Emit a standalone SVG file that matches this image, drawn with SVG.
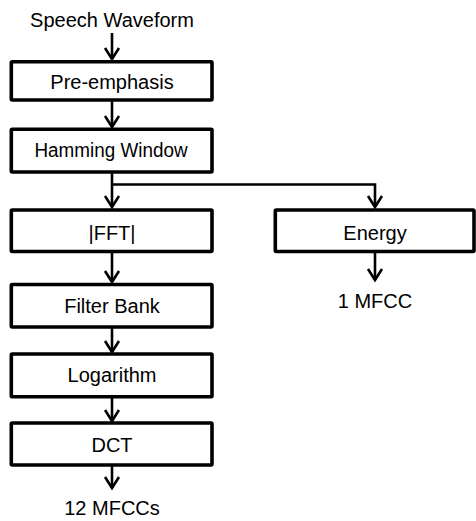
<svg xmlns="http://www.w3.org/2000/svg" width="476" height="521" viewBox="0 0 476 521">
  <style>
    .box { fill: #fff; stroke: #000; stroke-width: 3.6; }
    .lbl { font-family: "Liberation Sans", Arial, sans-serif; font-size: 20px; fill: #000; text-anchor: middle; }
    .wire { fill: none; stroke: #000; stroke-width: 2.6; }
  </style>
  <defs>
    <marker id="chev" markerUnits="userSpaceOnUse" viewBox="-8 -12 16 14" refX="0" refY="0" markerWidth="16" markerHeight="14" orient="auto-start-reverse" overflow="visible">
      <path d="M-7,-11 L0,0 L7,-11" fill="none" stroke="#000" stroke-width="2.6" transform="rotate(-90)"/>
    </marker>
  </defs>
  <rect width="476" height="521" fill="#fff"/>

  <!-- connectors -->
  <g id="connectors" class="wire">
    <path d="M112,33 V59" marker-end="url(#chev)"/>
    <path d="M112,101 V127" marker-end="url(#chev)"/>
    <path d="M112,173 V207" marker-end="url(#chev)"/>
    <path d="M112,184.5 H375 V207" marker-end="url(#chev)"/>
    <path d="M112,253 V282" marker-end="url(#chev)"/>
    <path d="M375,253 V280" marker-end="url(#chev)"/>
    <path d="M112,328 V352" marker-end="url(#chev)"/>
    <path d="M112,398 V421" marker-end="url(#chev)"/>
    <path d="M112,466 V488" marker-end="url(#chev)"/>
  </g>

  <g id="input">
    <text class="lbl" x="112" y="27">Speech Waveform</text>
  </g>
  <g id="pre-emphasis">
    <rect class="box" x="11.3" y="61.7" width="200.7" height="38.3" rx="1"/>
    <text class="lbl" x="112" y="89">Pre-emphasis</text>
  </g>
  <g id="hamming">
    <rect class="box" x="11.3" y="129.3" width="200.7" height="42.7" rx="1"/>
    <text class="lbl" x="111" y="157" textLength="153" lengthAdjust="spacingAndGlyphs">Hamming Window</text>
  </g>
  <g id="fft">
    <rect class="box" x="11.3" y="210" width="200.7" height="41.5" rx="1"/>
    <text class="lbl" x="112" y="240">|FFT|</text>
  </g>
  <g id="energy">
    <rect class="box" x="275.3" y="210" width="198.7" height="41.5" rx="1"/>
    <text class="lbl" x="375" y="240">Energy</text>
  </g>
  <g id="mfcc1">
    <text class="lbl" x="375" y="308">1 MFCC</text>
  </g>
  <g id="filter-bank">
    <rect class="box" x="11.3" y="284.5" width="200.7" height="42.5" rx="1"/>
    <text class="lbl" x="112" y="313">Filter Bank</text>
  </g>
  <g id="logarithm">
    <rect class="box" x="11.3" y="354" width="200.7" height="42.7" rx="1"/>
    <text class="lbl" x="112" y="382">Logarithm</text>
  </g>
  <g id="dct">
    <rect class="box" x="11.3" y="423" width="200.7" height="42" rx="1"/>
    <text class="lbl" x="112" y="452">DCT</text>
  </g>
  <g id="mfcc12">
    <text class="lbl" x="112" y="515">12 MFCCs</text>
  </g>
</svg>
